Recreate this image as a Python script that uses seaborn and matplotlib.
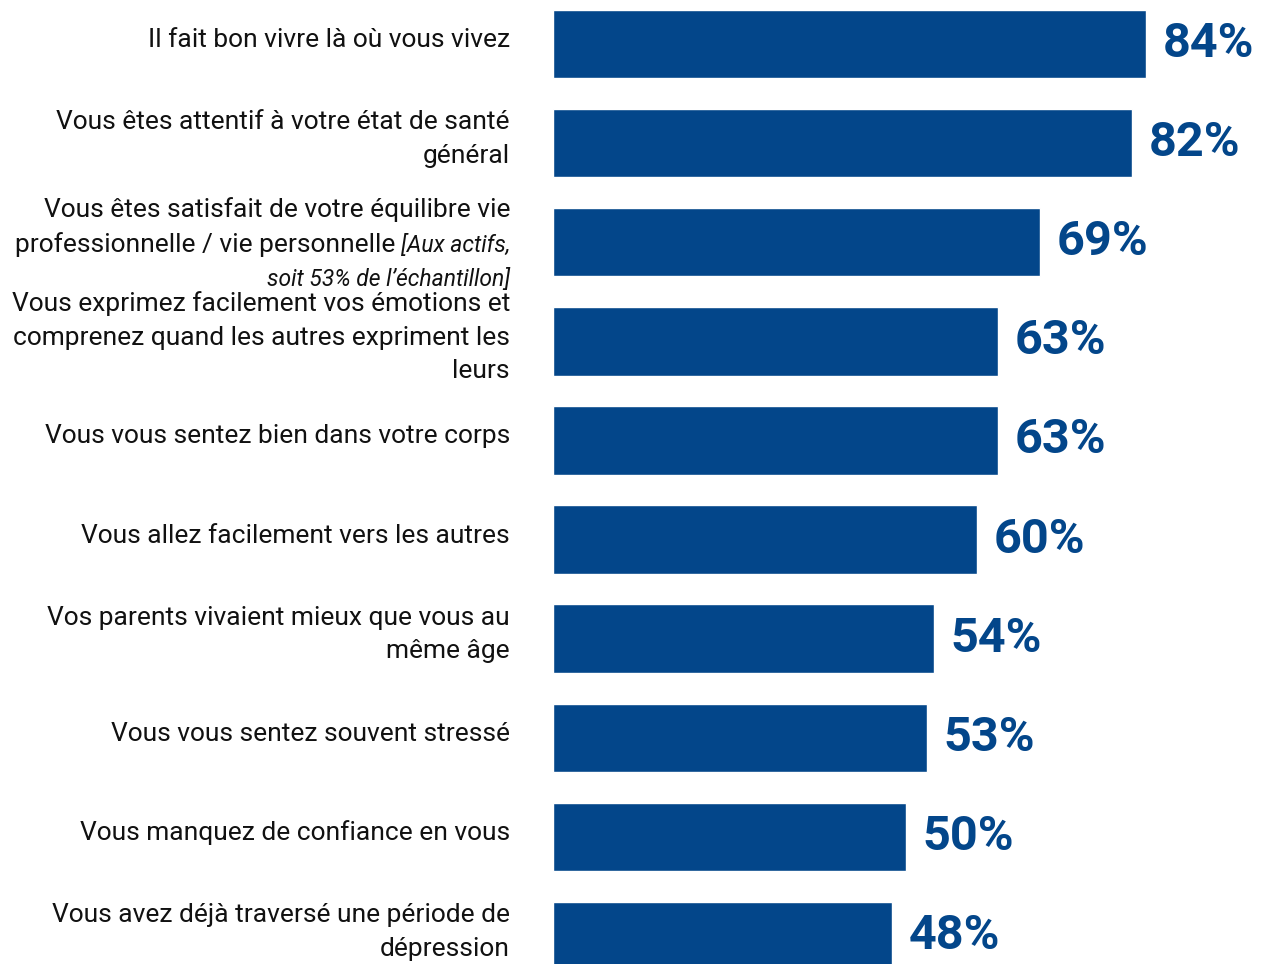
import pandas as pd
import matplotlib.pyplot as plt
import seaborn as sns

# Data
labels = [
    "Il fait bon vivre là où vous vivez",
    "Vous êtes attentif à votre état de santé\ngénéral",
    "Vous êtes satisfait de votre équilibre vie",
    "Vous exprimez facilement vos émotions et\ncomprenez quand les autres expriment les\nleurs",
    "Vous vous sentez bien dans votre corps",
    "Vous allez facilement vers les autres",
    "Vos parents vivaient mieux que vous au\nmême âge",
    "Vous vous sentez souvent stressé",
    "Vous manquez de confiance en vous",
    "Vous avez déjà traversé une période de\ndépression",
]
label3_line2 = "professionnelle / vie personnelle"
label3_note = ["[Aux actifs,", "soit 53% de l’échantillon]"]
values = [84, 82, 69, 63, 63, 60, 54, 53, 50, 48]

df = pd.DataFrame({"item": [f"q{i}" for i in range(len(values))], "pct": values})

blue = "#03468A"
txt = "#111111"
sns.set_theme(style="white")
plt.rcParams["font.family"] = ["Roboto", "DejaVu Sans"]

fig = plt.figure(figsize=(12.61, 9.64), dpi=100)
ax = fig.add_axes([553 / 1261, 0, 708 / 1261, 1])

sns.barplot(data=df, x="pct", y="item", color=blue, width=0.69,
            saturation=1, ax=ax, orient="h")
ax.set_xlim(0, 100.3)
ax.set_ylim(9.283, -0.444)
ax.set_xlabel("")
ax.set_ylabel("")
ax.set_xticks([])
ax.set_yticks([])
sns.despine(ax=ax, left=True, bottom=True)

ax.bar_label(ax.containers[0], labels=[f"{v}%" for v in values], padding=12,
             fontsize=35, fontweight="bold", color=blue)

# category labels, right aligned left of the bars
trans = ax.get_yaxis_transform()
xl = -43 / 708
for i, lab in enumerate(labels):
    if i == 2:
        continue
    ax.text(xl, i - 0.04, lab, transform=trans, ha="right", va="center",
            multialignment="right", fontsize=19, linespacing=1.5,
            color=txt)

# the third label mixes regular and italic text
y3 = 2
kw = dict(xycoords=trans, textcoords="offset points", ha="right",
          va="baseline", color=txt)
ax.annotate(labels[2], xy=(xl, y3), xytext=(0, -7 + 25), fontsize=19, **kw)
note1 = ax.annotate(label3_note[0], xy=(xl, y3), xytext=(0, -7),
                    fontsize=16.5, style="italic", **kw)
ax.annotate(label3_note[1], xy=(xl, y3), xytext=(0, -7 - 24.5),
            fontsize=16.5, style="italic", **kw)
ax.annotate(label3_line2, xy=(0, 0), xycoords=note1, xytext=(-4, 0),
            textcoords="offset points", ha="right", va="bottom",
            fontsize=19, color=txt)

fig.savefig("out.png", dpi=100)
